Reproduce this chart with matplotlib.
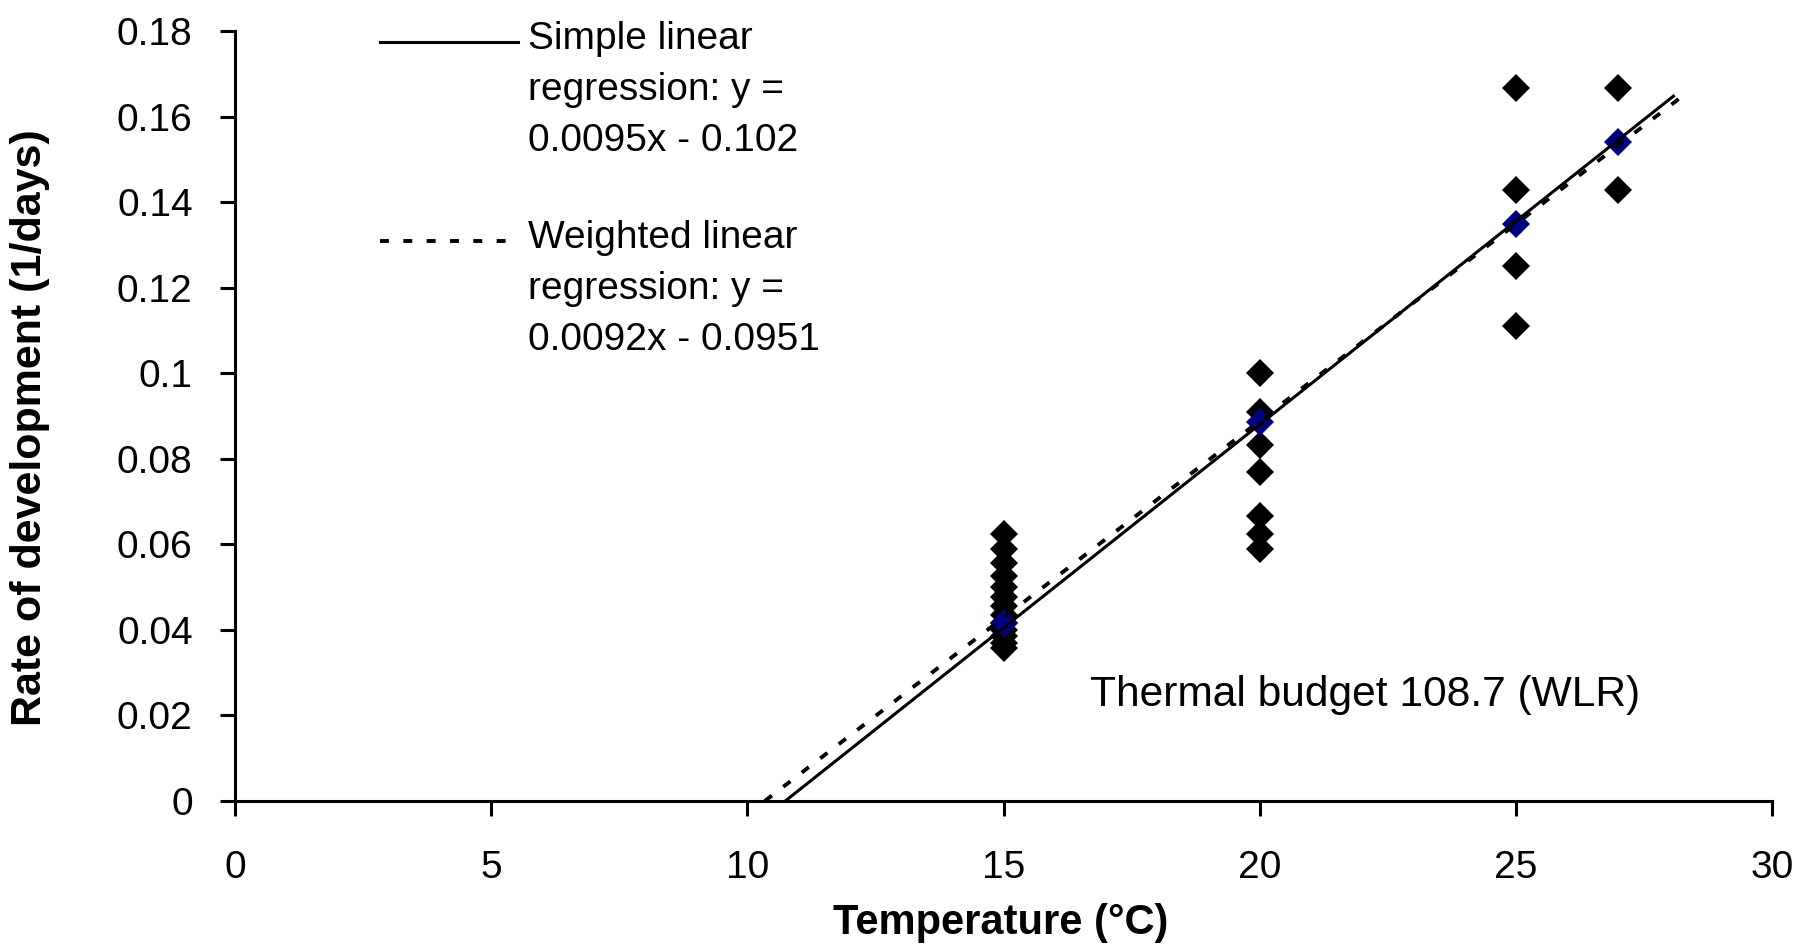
import matplotlib
matplotlib.use("Agg")
import matplotlib.pyplot as plt
from matplotlib.lines import Line2D

plt.rcParams['font.family'] = ['Liberation Sans', 'DejaVu Sans']

# ---- data ----
temps_obs = [15] * 13 + [20] * 7 + [25] * 4 + [27] * 2
rates_obs = [0.0625, 0.0588, 0.0556, 0.0526, 0.05, 0.0476, 0.0455, 0.0435,
             0.0417, 0.04, 0.0385, 0.037, 0.0357,
             0.1, 0.0909, 0.0833, 0.0769, 0.0667, 0.0625, 0.0588,
             0.1667, 0.1429, 0.125, 0.1111,
             0.1667, 0.1429]
temps_mean = [15, 20, 25, 27]
rates_mean = [0.0415, 0.0886, 0.135, 0.154]

simple_x = [10.74, 28.1]
simple_y = [0.0, 0.165]
weighted_x = [10.34, 28.2]
weighted_y = [0.0, 0.1643]

x_ticks = [0, 5, 10, 15, 20, 25, 30]
y_ticks = [0, 0.02, 0.04, 0.06, 0.08, 0.1, 0.12, 0.14, 0.16, 0.18]
y_tick_labels = ['0', '0.02', '0.04', '0.06', '0.08', '0.1', '0.12', '0.14', '0.16', '0.18']

label_simple = "Simple linear\nregression: y =\n0.0095x - 0.102"
label_weighted = "Weighted linear\nregression: y =\n0.0092x - 0.0951"
annotation = "Thermal budget 108.7 (WLR)"
x_label = "Temperature (°C)"
y_label = "Rate of development (1/days)"

# ---- figure ----
W, H = 1803, 947
fig = plt.figure(figsize=(W / 100, H / 100), dpi=100)
ax_l, ax_r, ax_t, ax_b = 235, 1772, 31, 801
ax = fig.add_axes([ax_l / W, 1 - ax_b / H, (ax_r - ax_l) / W, (ax_b - ax_t) / H])

dash_style = (0, (2.3, 3.7))

ax.plot(temps_obs, rates_obs, linestyle='none', marker='D', markersize=14,
        color='black', markeredgewidth=0, zorder=3, clip_on=False)
ax.plot(temps_mean, rates_mean, linestyle='none', marker='D', markersize=14,
        color='#000080', markeredgewidth=0, zorder=4, clip_on=False)
ax.plot(simple_x, simple_y, color='black', linewidth=2.2, zorder=5,
        solid_capstyle='butt', clip_on=False)
ax.plot(weighted_x, weighted_y, color='black', linewidth=2.8, zorder=5,
        linestyle=dash_style, clip_on=False)

ax.set_xlim(0, 30)
ax.set_ylim(0, 0.18)
ax.set_xticks(x_ticks)
ax.set_xticklabels([str(t) for t in x_ticks])
ax.set_yticks(y_ticks)
ax.set_yticklabels(y_tick_labels)

for s in ['top', 'right']:
    ax.spines[s].set_visible(False)
for s in ['left', 'bottom']:
    ax.spines[s].set_linewidth(2.2)

ax.tick_params(axis='x', direction='out', length=10.5, width=2.2,
               labelsize=28, colors='black', pad=25)
ax.tick_params(axis='y', direction='out', length=10.5, width=2.2,
               labelsize=28, colors='black', pad=20)

ax.set_xlabel(x_label, fontsize=30, fontweight='bold')
ax.xaxis.set_label_coords((1001 - ax_l) / (ax_r - ax_l), (ax_b - 903) / (ax_b - ax_t))
ax.set_ylabel(y_label, fontsize=31, fontweight='bold')
ax.yaxis.set_label_coords((50 - ax_l) / (ax_r - ax_l), (ax_b - 428) / (ax_b - ax_t))


def fx(px):
    return (px - ax_l) / (ax_r - ax_l)


def fy(py):
    return (ax_b - py) / (ax_b - ax_t)


# legend (drawn manually to match the reference layout)
ax.add_line(Line2D([fx(380), fx(518)], [fy(42), fy(42)], transform=ax.transAxes,
                   color='black', linewidth=2.2, clip_on=False))
ax.add_line(Line2D([fx(380), fx(518)], [fy(241), fy(241)], transform=ax.transAxes,
                   color='black', linewidth=2.8, linestyle=dash_style, clip_on=False))
ax.text(fx(528), fy(151), label_simple, transform=ax.transAxes, fontsize=28,
        ha='left', va='baseline', linespacing=1.54)
ax.text(fx(528), fy(350), label_weighted, transform=ax.transAxes, fontsize=28,
        ha='left', va='baseline', linespacing=1.54)

ax.text(fx(1090), fy(695), annotation, transform=ax.transAxes, fontsize=30.6,
        ha='left', va='center')

fig.savefig('out.png', dpi=100)
